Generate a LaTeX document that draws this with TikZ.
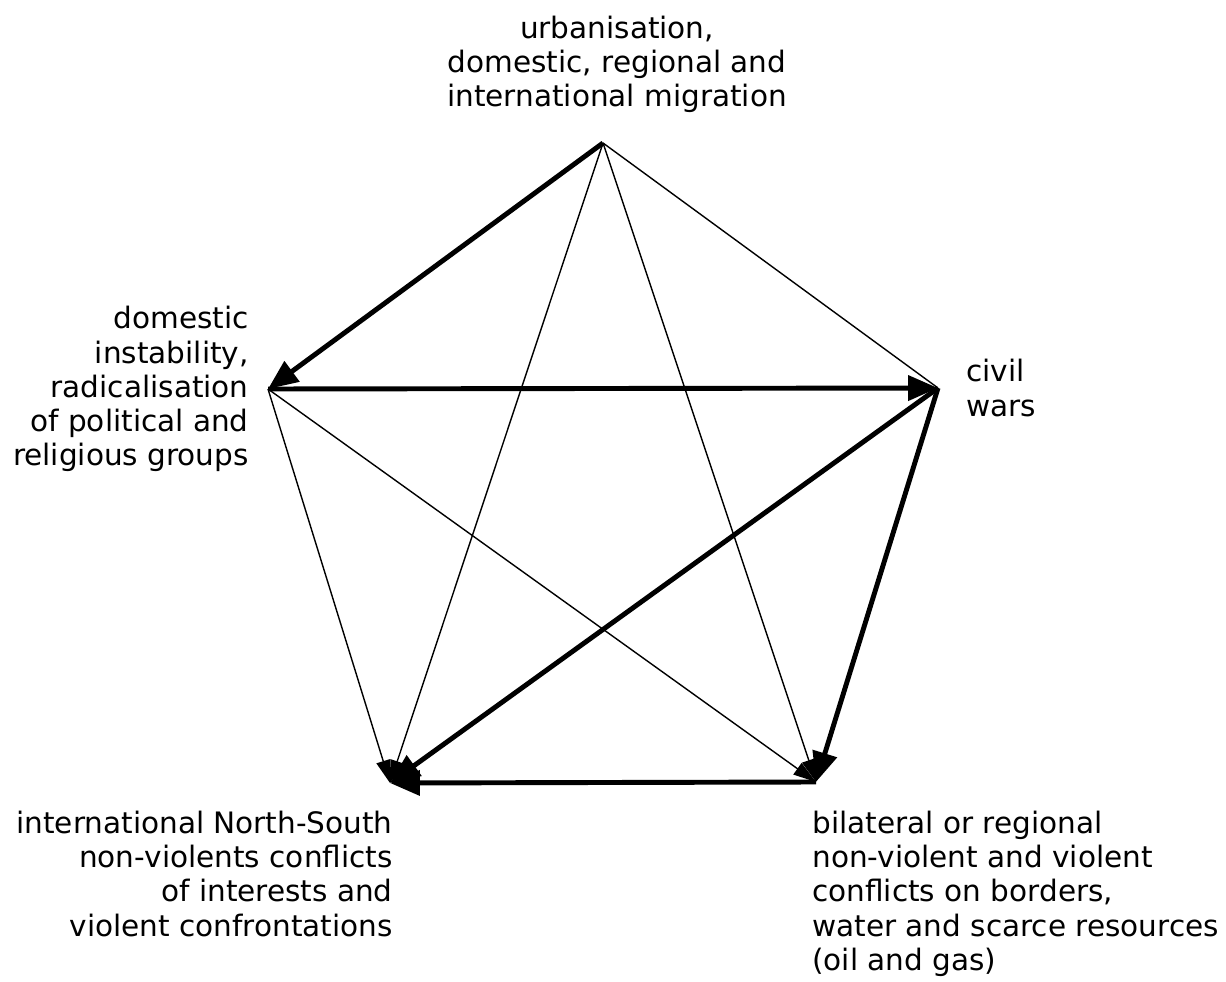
\documentclass[tikz,border=0pt]{standalone}
\usepackage{fontspec}
\setsansfont{DejaVu Sans}
\usepackage{tikz}
\usetikzlibrary{arrows.meta, positioning}

\tikzset{
  lbl/.style={font=\sffamily\fontsize{16.8}{19.4}\selectfont, inner sep=0pt},
  thin link/.style={line width=0.8pt, -{Triangle[length=13pt, width=8pt]}},
  thick link/.style={line width=2.8pt, -{Triangle[length=17pt, width=14pt]}},
}

\begin{document}
\begin{tikzpicture}[x=0.02cm, y=-0.02cm]
    \useasboundingbox (0,0) rectangle (1226,982);

    % corners of the pentagon
    \coordinate (mig) at (603,143);
    \coordinate (dom) at (268,389);
    \coordinate (civ) at (938,388);
    \coordinate (ns)  at (390,783);
    \coordinate (bil) at (816,782);

    % labels
    \node[lbl, align=center, anchor=south] (tmig) at (617,113)
        {urbanisation,\\domestic, regional and\\international migration};
    \node[lbl, align=right, anchor=east] (tdom) at (249,389)
        {domestic\\instability,\\radicalisation\\of political and\\religious groups};
    \node[lbl, align=left, anchor=west] (tciv) at (966,388)
        {civil\\wars};
    \node[lbl, align=right, anchor=north east] (tns) at (393,811)
        {international North-South\\non-violents conflicts\\of interests and\\violent confrontations};
    \node[lbl, align=left, anchor=north west] (tbil) at (812,811)
        {bilateral or regional\\non-violent and violent\\conflicts on borders,\\water and scarce resources\\(oil and gas)};

    % thin links
    \draw[line width=0.8pt] (mig) -- (civ);
    \draw[thin link] (mig) -- (ns);
    \draw[thin link] (mig) -- (bil);
    \draw[thin link] (dom) -- (ns);
    \draw[thin link] (dom) -- (bil);

    % thick links
    \draw[thick link] (mig) -- (dom);
    \draw[thick link] (dom) -- (civ);
    \draw[thick link] (civ) -- (ns);
    \draw[thick link] (civ) -- (bil);
    \draw[thick link] (bil) -- (ns);
\end{tikzpicture}
\end{document}
